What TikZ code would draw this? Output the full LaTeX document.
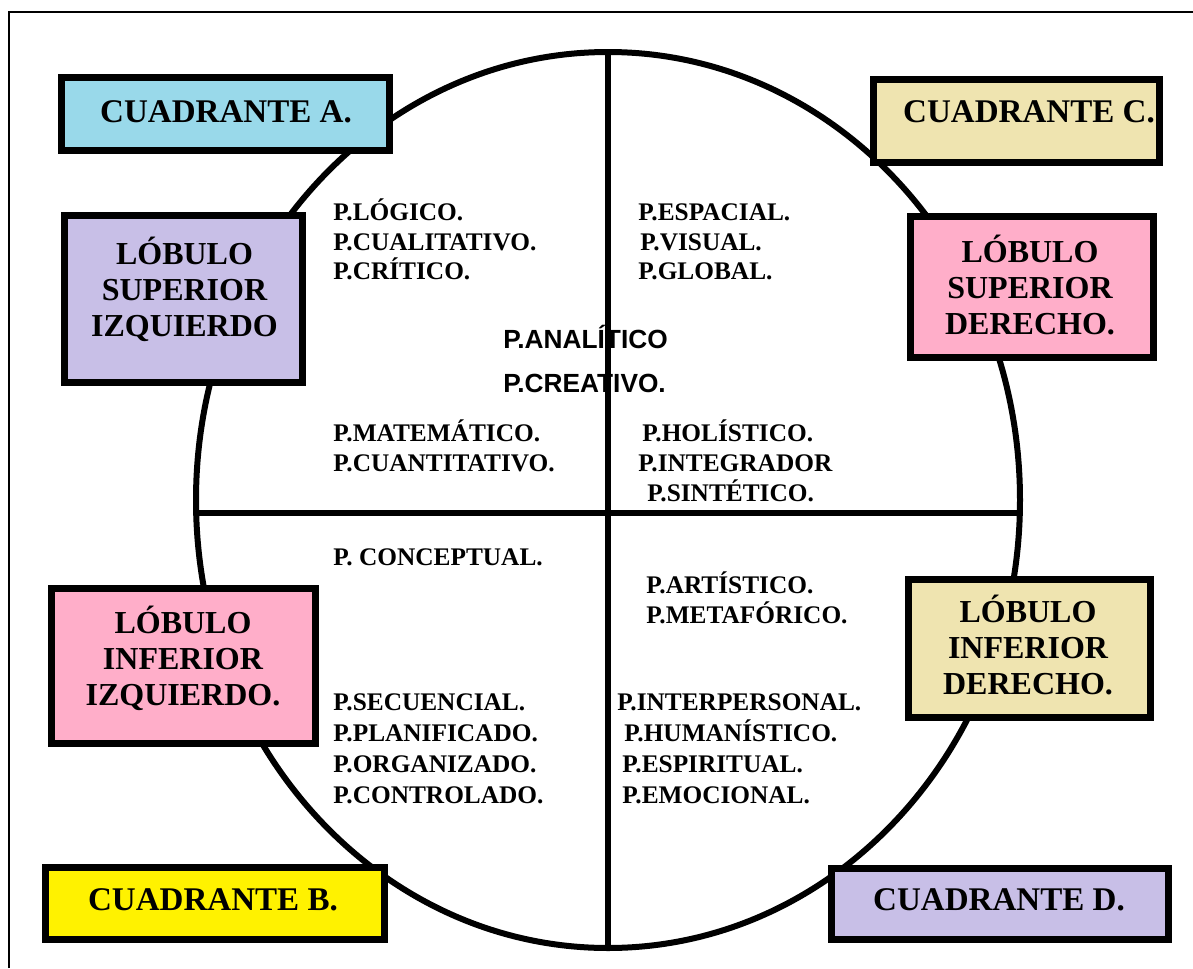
\documentclass[tikz,border=0pt]{standalone}
\usepackage{fontspec}
\setmainfont{Liberation Serif}
\newfontfamily\arialf{Liberation Sans}
\usetikzlibrary{shapes.geometric}
\definecolor{cblue}{RGB}{153,217,234}
\definecolor{clav}{RGB}{200,191,231}
\definecolor{ctan}{RGB}{239,228,176}
\definecolor{cpink}{RGB}{255,174,201}
\definecolor{cyell}{RGB}{255,242,0}
\begin{document}
\begin{tikzpicture}[x=0.75pt,y=-0.75pt,
  box/.style={draw=black, line width=5.25pt, inner sep=0pt, rectangle},
  boxlab/.style={font=\bfseries\fontsize{24}{27}\selectfont, align=center, inner sep=0pt},
  qlab/.style={font=\bfseries\fontsize{24.8}{27}\selectfont, inner sep=0pt},
  item/.style={font=\bfseries\fontsize{19}{22}\selectfont, anchor=base west, inner sep=0pt},
  sitem/.style={font=\arialf\bfseries\fontsize{19.7}{24}\selectfont, anchor=base west, inner sep=0pt},
  divline/.style={line width=4.5pt}]
\useasboundingbox (0,0) rectangle (1193,968);
\fill[white] (0,0) rectangle (1193,968);
% frame
\coordinate (fb) at (9,968);
\coordinate (fc) at (9,12);
\coordinate (fr) at (1193,12);
\draw[line width=1.5pt] (fb) -- (fc) -- (fr);
% ellipse
\node[draw, ellipse, line width=4.5pt, minimum width=618pt, minimum height=672pt, inner sep=0pt] (E) at (608,500) {};
% center texts (under the vertical line)
\node[sitem] (anal) at (503,348) {P.ANALÍTICO};
\node[sitem] (crea) at (503,392) {P.CREATIVO.};
% quadrant lines
\coordinate (hl) at (196.2,513);
\coordinate (hr) at (1019.8,513);
\draw[divline] (E.north) -- (E.south);
\draw[divline] (hl) -- (hr);
% top-left items
\node[item] (t1) at (333,220) {P.LÓGICO.};
\node[item] (t2) at (333,250) {P.CUALITATIVO.};
\node[item] (t3) at (333,279) {P.CRÍTICO.};
\node[item] (t4) at (333,441) {P.MATEMÁTICO.};
\node[item] (t5) at (333,471) {P.CUANTITATIVO.};
% top-right items
\node[item] (r1) at (638,220) {P.ESPACIAL.};
\node[item] (r2) at (640,250) {P.VISUAL.};
\node[item] (r3) at (638,279) {P.GLOBAL.};
\node[item] (r4) at (642,441) {P.HOLÍSTICO.};
\node[item] (r5) at (638,471) {P.INTEGRADOR};
\node[item] (r6) at (647,501) {P.SINTÉTICO.};
% bottom-left items
\node[item] (b1) at (333,565) {P. CONCEPTUAL.};
\node[item] (b2) at (333,710) {P.SECUENCIAL.};
\node[item] (b3) at (333,741) {P.PLANIFICADO.};
\node[item] (b4) at (333,772) {P.ORGANIZADO.};
\node[item] (b5) at (333,803) {P.CONTROLADO.};
% bottom-right items
\node[item] (d1) at (646,593) {P.ARTÍSTICO.};
\node[item] (d2) at (646,623) {P.METAFÓRICO.};
\node[item] (d3) at (617,710) {P.INTERPERSONAL.};
\node[item] (d4) at (624,741) {P.HUMANÍSTICO.};
\node[item] (d5) at (622,772) {P.ESPIRITUAL.};
\node[item] (d6) at (622,803) {P.EMOCIONAL.};
% boxes
\node[box, fill=cblue, minimum width=246pt, minimum height=54.75pt] (qa) at (225.5,114) {};
\node[qlab] (qat) at (226,112) {CUADRANTE A.};
\node[box, fill=clav, minimum width=178.5pt, minimum height=125.25pt] (lsi) at (183.5,299) {};
\node[boxlab] (lsit) at (184.5,289) {LÓBULO\\SUPERIOR\\IZQUIERDO};
\node[box, fill=ctan, minimum width=214.5pt, minimum height=62.25pt] (qc) at (1016.5,121) {};
\node[qlab] (qct) at (1029,112) {CUADRANTE C.};
\node[box, fill=cpink, minimum width=182.25pt, minimum height=105.75pt] (lsd) at (1032,287) {};
\node[boxlab] (lsdt) at (1030,285) {LÓBULO\\SUPERIOR\\DERECHO.};
\node[box, fill=cpink, minimum width=198pt, minimum height=116.25pt] (lii) at (183.5,666) {};
\node[boxlab] (liit) at (183,658) {LÓBULO\\INFERIOR\\IZQUIERDO.};
\node[box, fill=ctan, minimum width=181.5pt, minimum height=103.5pt] (lid) at (1029.5,648.5) {};
\node[boxlab] (lidt) at (1028,645) {LÓBULO\\INFERIOR\\DERECHO.};
\node[box, fill=cyell, minimum width=254.25pt, minimum height=54pt] (qb) at (215,903.5) {};
\node[qlab] (qbt) at (213,900) {CUADRANTE B.};
\node[box, fill=clav, minimum width=252.75pt, minimum height=53.25pt] (qd) at (1000,904) {};
\node[qlab] (qdt) at (999,900) {CUADRANTE D.};
\end{tikzpicture}
\end{document}
